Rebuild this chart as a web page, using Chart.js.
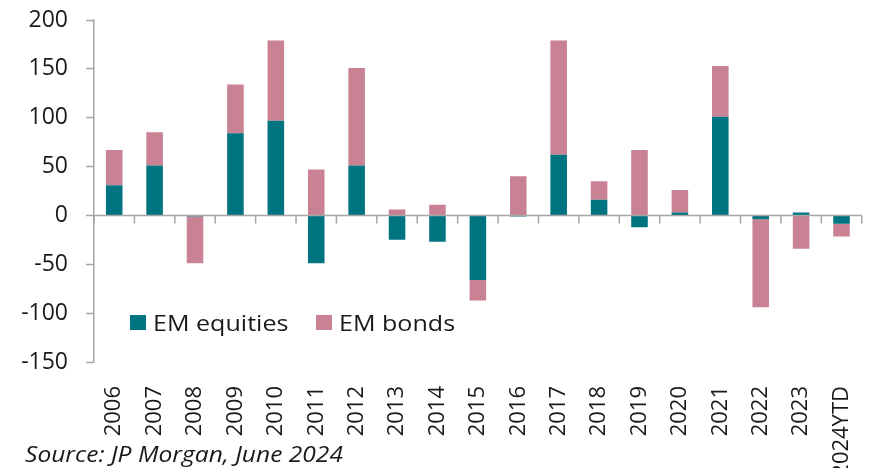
<!DOCTYPE html>
<html>
<head>
<meta charset="utf-8">
<script src="https://cdn.jsdelivr.net/npm/chart.js@4"></script>
<style>
  html, body { margin: 0; padding: 0; background: #fff; overflow: hidden; }
  #wrap { position: relative; width: 884px; height: 468px; }
  .leg { position: absolute; top: 309px; font-family: 'Open Sans', sans-serif; font-size: 22px; color: #1a1a1a; white-space: nowrap; line-height: 26px; }
  .leg span.box { position: absolute; top: 6px; width: 16px; height: 15px; }
  .leg span.txt { position: absolute; left: 23px; top: 0; display: inline-block; transform: scaleX(1.14); transform-origin: left center; }
  #source { position: absolute; left: 25px; top: 440px; font-family: 'Open Sans', sans-serif; font-style: italic; font-size: 21px; color: #1a1a1a; white-space: nowrap; transform: scaleX(1.17); transform-origin: left center; }
</style>
</head>
<body>
<div id="wrap">
  <canvas id="flows" width="884" height="468"></canvas>
  <div class="leg" style="left:130px"><span class="box" style="background:#007480"></span><span class="txt">EM equities</span></div>
  <div class="leg" style="left:316px"><span class="box" style="background:#c88294"></span><span class="txt">EM bonds</span></div>
  <div id="source">Source: JP Morgan, June 2024</div>
</div>
<script>
const years = ['2006', '2007', '2008', '2009', '2010', '2011', '2012', '2013', '2014', '2015',
  '2016', '2017', '2018', '2019', '2020', '2021', '2022', '2023', '2024YTD']
const emEquities = [31, 51, -1, 84, 97, -49, 51, -25, -27, -66, -1, 62, 16, -12, 3, 101, -4, 3, -8.5]
const emBonds = [36, 34, -48, 50, 82, 47, 100, 6, 11, -21, 40, 117, 19, 67, 23, 52, -90, -34, -13]
const yTicks = [-150, -100, -50, 0, 50, 100, 150, 200]

const axisGrey = '#a6a6a6'
const textCol = '#1a1a1a'

// zero line + short category ticks, drawn over the bars like the original
const zeroAxis = {
  id: 'zeroAxis',
  afterDatasetsDraw(chart) {
    const { ctx, chartArea, scales: { x, y } } = chart
    const y0 = y.getPixelForValue(0)
    ctx.save()
    ctx.strokeStyle = axisGrey
    ctx.lineWidth = 1.5
    ctx.beginPath()
    ctx.moveTo(chartArea.left, y0)
    ctx.lineTo(chartArea.right, y0)
    for (let i = 0; i <= years.length; i++) {
      const bx = x.getPixelForValue(i - 0.5)
      ctx.moveTo(bx, y0)
      ctx.lineTo(bx, y0 + 8)
    }
    ctx.stroke()
    ctx.restore()
  }
}

const ctx = document.getElementById('flows').getContext('2d')
const flowsChart = new Chart(ctx, {
  type: 'bar',
  data: {
    labels: years,
    datasets: [
      {
        label: 'EM equities',
        data: emEquities,
        backgroundColor: '#007480',
        barPercentage: 0.41,
        categoryPercentage: 1,
      },
      {
        label: 'EM bonds',
        data: emBonds,
        backgroundColor: '#c88294',
        barPercentage: 0.41,
        categoryPercentage: 1,
      },
    ],
  },
  options: {
    responsive: false,
    animation: false,
    layout: { padding: { top: 20, right: 3, left: 0, bottom: 0 } },
    plugins: {
      legend: { display: false },
      tooltip: { enabled: false },
    },
    scales: {
      x: {
        stacked: true,
        grid: { display: false },
        border: { display: false },
        ticks: {
          autoSkip: false,
          minRotation: 90,
          maxRotation: 90,
          padding: 16,
          color: textCol,
          font: { family: 'Open Sans', size: 22 },
        },
        afterFit: (scale) => { scale.height = 106 },
      },
      y: {
        stacked: true,
        min: -150,
        max: 200,
        afterBuildTicks: (scale) => { scale.ticks = yTicks.map(v => ({ value: v })) },
        grid: {
          drawOnChartArea: false,
          tickLength: 8,
          tickColor: axisGrey,
          tickWidth: 1.5,
        },
        border: { color: axisGrey, width: 1.5 },
        ticks: {
          padding: 18,
          color: textCol,
          font: { family: 'Open Sans', size: 23 },
        },
        afterFit: (scale) => {
          scale.width = 94
          scale.paddingTop = 0
          scale.paddingBottom = 0
        },
      },
    },
  },
  plugins: [zeroAxis],
})
</script>
</body>
</html>
